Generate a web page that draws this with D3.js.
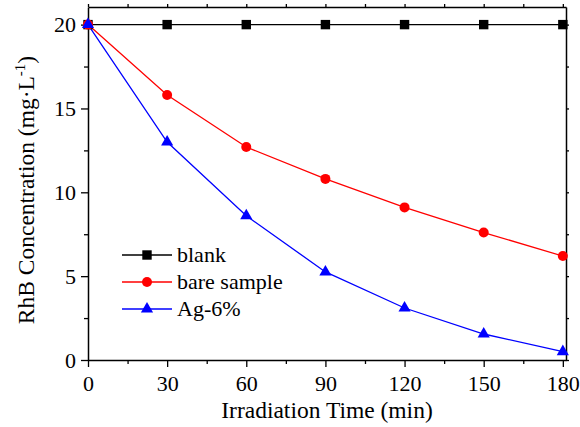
<!DOCTYPE html>
<html>
<head>
<meta charset="utf-8">
<script src="https://cdn.jsdelivr.net/npm/d3@7"></script>
<style>
  body { margin: 0; background: #fff; }
  svg text { font-family: "Liberation Serif", "Times New Roman", serif; fill: #000; }
</style>
</head>
<body>
<script>
// chart data
var times = [0, 30, 60, 90, 120, 150, 180];
var blank = [20, 20, 20, 20, 20, 20, 20];
var bare = [20, 15.8, 12.7, 10.8, 9.1, 7.6, 6.2];
var ag6 = [20, 13.0, 8.6, 5.25, 3.1, 1.55, 0.5];
var seriesNames = ["blank", "bare sample", "Ag-6%"];
var seriesColors = ["#000000", "#ff0000", "#0000ff"];
var xTicks = [0, 30, 60, 90, 120, 150, 180];
var yTicks = [0, 5, 10, 15, 20];

var svgWidth = 580;
var svgHeight = 427;
var margin = { top: 7, right: 14, bottom: 67, left: 88 };
var width = svgWidth - margin.left - margin.right;
var height = svgHeight - margin.top - margin.bottom;

var svg = d3.select("body").append("svg")
  .attr("width", svgWidth)
  .attr("height", svgHeight)
  .attr("font-family", "Liberation Serif");

var chartGroup = svg.append("g")
  .attr("transform", `translate(${margin.left}, ${margin.top})`);

var x = d3.scaleLinear().domain([0, 181.2]).range([0, width]);
var y = d3.scaleLinear().domain([0, 21.05]).range([height, 0]);

// minor ticks
var xMinor = d3.range(15, 181, 30);
var yMinor = d3.range(2.5, 21, 5);

// bottom axis
chartGroup.append("g")
  .attr("transform", `translate(0, ${height})`)
  .call(d3.axisBottom(x).tickValues(xTicks).tickSizeInner(7).tickSizeOuter(0).tickPadding(8));
chartGroup.append("g")
  .attr("transform", `translate(0, ${height})`)
  .call(d3.axisBottom(x).tickValues(xMinor).tickSize(4).tickFormat(""))
  .select(".domain").remove();

// left axis
chartGroup.append("g")
  .call(d3.axisLeft(y).tickValues(yTicks).tickSizeInner(7).tickSizeOuter(0).tickPadding(5));
chartGroup.append("g")
  .call(d3.axisLeft(y).tickValues(yMinor).tickSize(4).tickFormat(""))
  .select(".domain").remove();

// top and right mirror axes
chartGroup.append("g")
  .call(d3.axisTop(x).tickValues(xTicks.concat(xMinor)).tickSize(3).tickSizeOuter(0).tickFormat(""));
chartGroup.append("g")
  .attr("transform", `translate(${width}, 0)`)
  .call(d3.axisRight(y).tickValues(yTicks.concat(yMinor)).tickSize(3).tickSizeOuter(0).tickFormat(""));

chartGroup.selectAll("g").attr("font-family", null).attr("font-size", null);
chartGroup.selectAll(".domain").attr("stroke-width", 1.5);
chartGroup.selectAll(".tick line").attr("stroke-width", 1.3);
chartGroup.selectAll(".tick text")
  .attr("font-size", 22);

// series
var allSeries = [blank, bare, ag6];
var line = d3.line()
  .x((d, i) => x(times[i]))
  .y(d => y(d));

function drawMarker(g, kind, cx, cy, color) {
  if (kind === 0) {
    g.append("rect")
      .attr("x", cx - 4.7).attr("y", cy - 4.7)
      .attr("width", 9.4).attr("height", 9.4)
      .attr("fill", color);
  } else if (kind === 1) {
    g.append("circle")
      .attr("cx", cx).attr("cy", cy).attr("r", 5)
      .attr("fill", color);
  } else {
    g.append("path")
      .attr("d", d3.symbol().type(d3.symbolTriangle).size(64)())
      .attr("transform", `translate(${cx}, ${cy})`)
      .attr("fill", color);
  }
}

allSeries.forEach(function(vals, s) {
  chartGroup.append("path")
    .datum(vals)
    .attr("d", line)
    .attr("fill", "none")
    .attr("stroke", seriesColors[s])
    .attr("stroke-width", 1.3);
});
allSeries.forEach(function(vals, s) {
  var g = chartGroup.append("g");
  vals.forEach(function(v, i) {
    drawMarker(g, s, x(times[i]), y(v), seriesColors[s]);
  });
});

// legend
var legend = svg.append("g").attr("transform", "translate(122, 255)");
seriesNames.forEach(function(name, s) {
  var row = legend.append("g").attr("transform", `translate(0, ${s * 27})`);
  row.append("line")
    .attr("x1", 0).attr("x2", 50)
    .attr("y1", 0).attr("y2", 0)
    .attr("stroke", seriesColors[s])
    .attr("stroke-width", 1.3);
  drawMarker(row, s, 25, 0, seriesColors[s]);
  row.append("text")
    .attr("x", 55).attr("y", 7)
    .attr("font-size", 22)
    .text(name);
});

// axis titles
svg.append("text")
  .attr("x", 327)
  .attr("y", 418)
  .attr("text-anchor", "middle")
  .attr("font-size", 23.5)
  .text("Irradiation Time (min)");

var yTitle = svg.append("text")
  .attr("transform", "translate(34, 190) rotate(-90)")
  .attr("text-anchor", "middle")
  .attr("font-size", 23.5);
yTitle.append("tspan").text("RhB Concentration (mg\u00B7L");
yTitle.append("tspan").attr("dy", -9).attr("font-size", 15).text("-1");
yTitle.append("tspan").attr("dy", 9).text(")");
</script>
</body>
</html>
